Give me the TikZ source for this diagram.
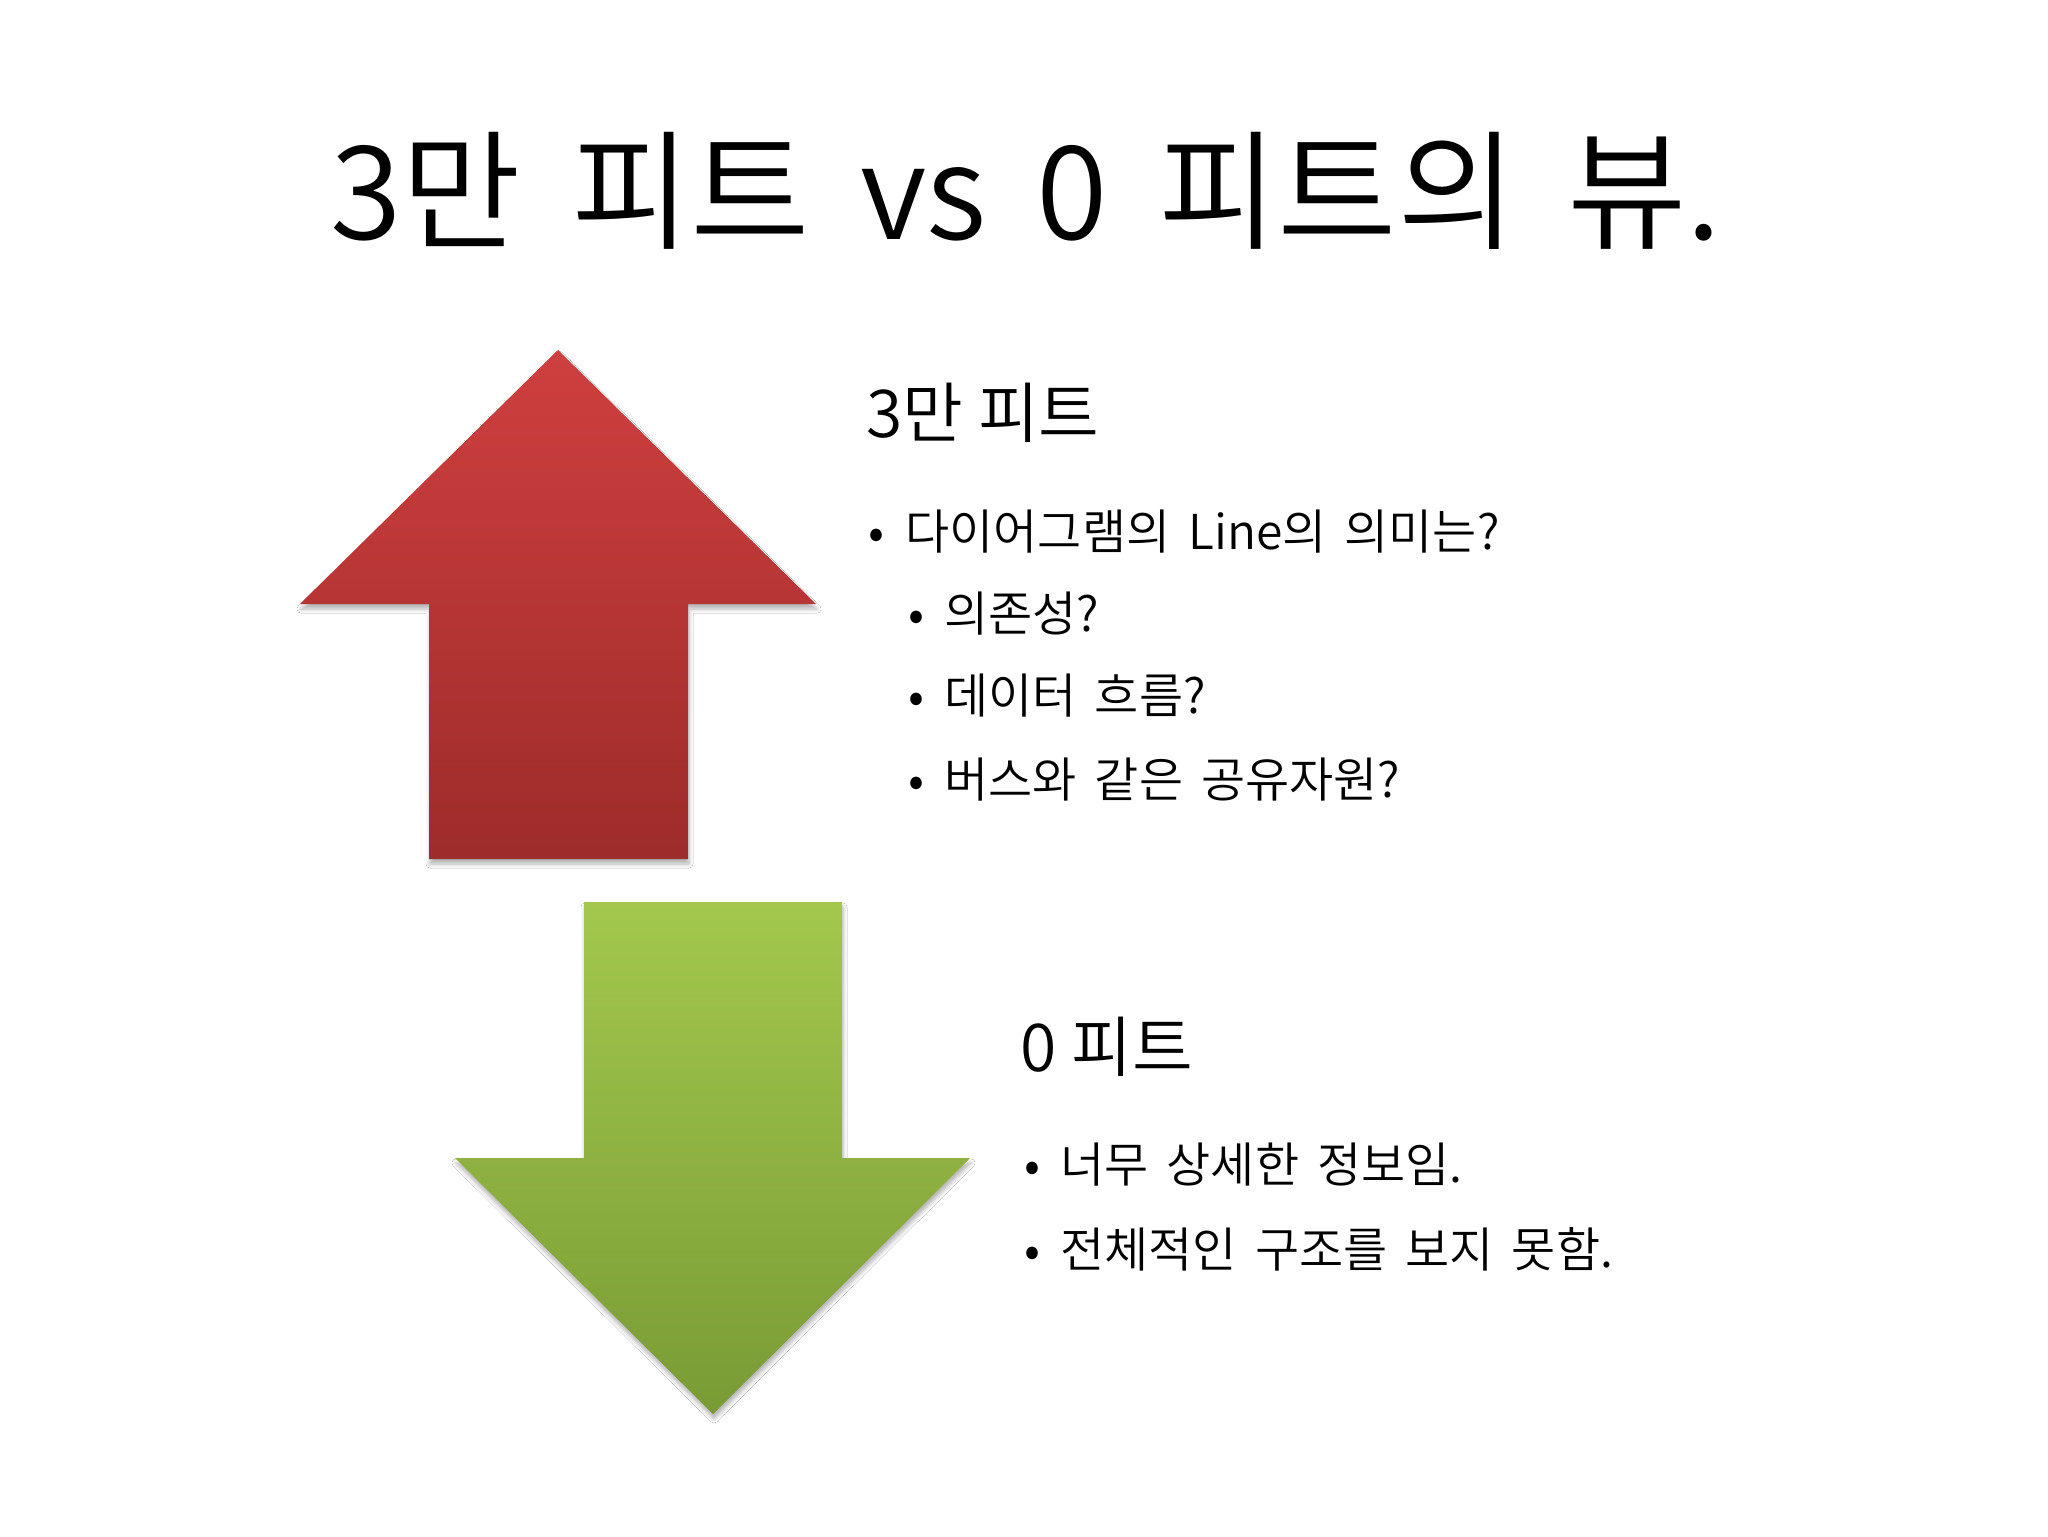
\documentclass[tikz,border=0pt]{standalone}
\usepackage{fontspec}
\setmainfont{Noto Sans CJK KR}[UprightFont={* DemiLight}]
\usetikzlibrary{shadows.blur}
\definecolor{redtop}{HTML}{CF3F3F}
\definecolor{redbot}{HTML}{9D2C2A}
\definecolor{greentop}{HTML}{A3C84D}
\definecolor{greenbot}{HTML}{799B35}
\newcommand\mytitlefont{\fontsize{65}{70}\selectfont\spaceskip 25pt\relax}
\newcommand\myheadfont{\fontsize{33}{40}\selectfont}
\newcommand\myitemfont{\fontsize{24}{30}\selectfont\spaceskip 9pt\relax}
\tikzset{
  arrowshape/.style={blur shadow={shadow xshift=0.5pt, shadow yshift=-2.5pt, shadow blur radius=2pt, shadow blur steps=6, shadow opacity=30}},
  txt/.style={anchor=base west, inner sep=0pt, text=black},
  titletxt/.style={anchor=base, inner sep=0pt, text=black, font=\mytitlefont},
  headtxt/.style={txt, font=\myheadfont},
  itemtxt/.style={txt, font=\myitemfont},
}
\begin{document}
\begin{tikzpicture}[x=0.5pt,y=-0.5pt]
\useasboundingbox[fill=white] (0,0) rectangle (2048,1536);
% red up arrow
\path[arrowshape, top color=redtop, bottom color=redbot]
  (558,350) -- (816,604) -- (688,604) -- (688,859) -- (429,859) -- (429,604) -- (300,604) -- cycle;
% green down arrow
\path[arrowshape, top color=greentop, bottom color=greenbot]
  (584,902) -- (842,902) -- (842,1158) -- (970,1158) -- (713,1414) -- (455,1158) -- (584,1158) -- cycle;
% title
\node[titletxt] (title) at (1026,239) {3만 피트 vs 0 피트의 뷰.};
% upper block
\node[headtxt] (h1) at (866,437) {3만 피트};
\node[itemtxt] (b1) at (868,549) {•};
\node[itemtxt] (t1) at (905,549) {다이어그램의 Line의 의미는?};
\node[itemtxt] (b2) at (908,631) {•};
\node[itemtxt] (t2) at (944,631) {의존성?};
\node[itemtxt] (b3) at (908,713) {•};
\node[itemtxt] (t3) at (944,713) {데이터 흐름?};
\node[itemtxt] (b4) at (908,797) {•};
\node[itemtxt] (t4) at (944,797) {버스와 같은 공유자원?};
% lower block
\node[headtxt] (h2) at (1020,1071) {0 피트};
\node[itemtxt] (b5) at (1024,1182) {•};
\node[itemtxt] (t5) at (1060,1182) {너무 상세한 정보임.};
\node[itemtxt] (b6) at (1024,1267) {•};
\node[itemtxt] (t6) at (1060,1267) {전체적인 구조를 보지 못함.};
\end{tikzpicture}
\end{document}
